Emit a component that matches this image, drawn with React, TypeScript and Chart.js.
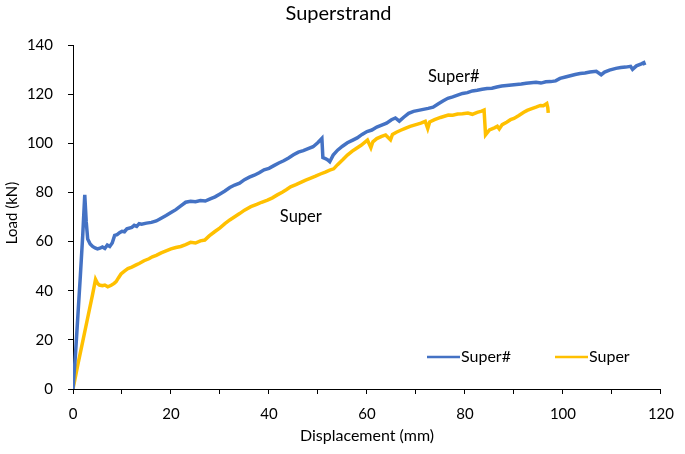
import React, { useEffect, useRef } from "react";
import { Chart, registerables } from "chart.js";

Chart.register(...registerables);

const TITLE = "Superstrand";
const X_TITLE = "Displacement (mm)";
const Y_TITLE = "Load (kN)";
const SERIES_NAMES = ["Super#", "Super"];
const COLORS = ["#4472C4", "#FFC000"];

// Super# (blue)
const superHashX = [
  0, 0.5, 1, 1.5, 2, 2.4, 2.7, 3.0, 3.5, 4, 4.5, 5, 5.5, 6, 6.5, 7, 7.5, 8, 8.5, 9, 9.5, 10, 10.5, 11, 12, 12.5, 13, 13.5, 14, 15,
  16, 17, 18, 19, 20, 21, 22, 23, 24, 25, 26, 27, 28, 29, 30, 31, 32, 33, 34, 35, 36, 37, 38, 39, 40, 41, 42, 43, 44, 45,
  46, 47, 48, 49, 50, 50.8, 51.0, 51.5, 52, 52.4, 53.1, 54, 55, 56, 57, 58, 59, 60, 61, 62, 63, 64, 65, 65.8, 66.6, 67.5, 68.5, 69.5, 70.5, 71.5,
  72.5, 73.5, 74.5, 75.5, 76.5, 77.5, 78.5, 79.5, 80.5, 81.5, 82.5, 83.5, 84.5, 85.5, 86.5, 87.5, 88.5, 89.5, 90.5, 91.5, 92.5, 93.5, 94.5, 95.5,
  96.5, 97.5, 98.5, 99.4, 100.5, 101.5, 102.5, 103.5, 104.5, 105.5, 106.8, 107.8, 108.5, 109.5, 110.8, 111.8, 112.8, 113.8, 114.2, 115, 116, 116.5, 116.7,
];
const superHashY = [
  0, 14, 30, 46, 63, 79, 68, 61, 59, 58, 57.4, 57, 57.3, 57.8, 57.2, 58.6, 58, 59.4, 62.5, 62.8, 63.6, 64.2, 64, 65.2, 65.8, 66.6, 66.2, 67.3, 67.1, 67.5,
  67.8, 68.4, 69.5, 70.6, 71.8, 73, 74.5, 76, 76.4, 76.2, 76.7, 76.5, 77.4, 78.2, 79.4, 80.6, 82, 83, 83.8, 85.2, 86.2, 87, 88, 89.2, 89.8, 90.9, 92, 92.9, 94, 95.3,
  96.4, 97, 97.8, 98.6, 100.3, 102, 94.2, 93.8, 93.2, 92.5, 95.2, 97.2, 98.8, 100.2, 101.2, 102.2, 103.6, 104.8, 105.4, 106.6, 107.4, 108.2, 109.6, 110.3, 109, 110.6, 112.2, 113, 113.4, 113.8,
  114.2, 114.7, 116, 117.2, 118.3, 118.9, 119.6, 120.3, 120.6, 121.3, 121.6, 122, 122.3, 122.4, 122.9, 123.3, 123.5, 123.7, 123.9, 124.1, 124.4, 124.6, 124.8, 124.5,
  125, 125.1, 125.4, 126.4, 127, 127.5, 128, 128.4, 128.6, 129, 129.3, 127.9, 129, 129.8, 130.5, 130.8, 131, 131.3, 130.1, 131.5, 132.3, 132.8, 131.8,
];

// Super (yellow)
const superX = [
  0, 1, 2, 3, 4, 4.6, 5.0, 5.4, 6, 6.5, 7.1, 7.8, 8.4, 8.8, 9.3, 9.8, 10.5, 11.2, 12, 13, 13.5, 14.5, 15.5, 16.2, 17, 18, 19, 20, 21, 22,
  23, 24, 25, 26, 26.9, 27.8, 28.9, 30, 31, 32, 33, 34, 35, 36.3, 37.5, 38.5, 39.7, 40.7, 41.7, 42.7, 43.6, 44.4, 45.5, 46.5, 47.5, 48.4, 49.5, 50.5, 51.5, 52.4,
  53.2, 54, 55.1, 56, 57, 57.8, 58.8, 60.1, 60.8, 61.2, 62, 63, 63.8, 64.8, 65.2, 66, 67, 67.8, 68.8, 70, 71, 71.9, 72.4, 72.8, 73.8, 75, 76.6, 77.5, 78.5, 79.5,
  80.6, 81.5, 82.5, 83.4, 83.9, 84.2, 85, 86, 86.6, 87, 87.6, 88.5, 89.3, 90, 91, 92, 92.7, 93.5, 94.5, 95.4, 96, 96.7, 96.9, 97,
];
const superY = [
  0, 10, 19.5, 29, 38.5, 44.6, 43, 42.3, 42, 42.3, 41.6, 42.2, 43, 43.7, 45.3, 46.8, 48, 49, 49.6, 50.6, 51.1, 52.2, 53, 53.8, 54.4, 55.4, 56.2, 57, 57.6, 58,
  58.8, 59.7, 59.4, 60.3, 60.6, 62.3, 64, 65.6, 67.3, 68.8, 70.1, 71.4, 72.8, 74.2, 75.1, 76, 76.9, 77.8, 79, 80.1, 81.2, 82.3, 83.2, 84.1, 85, 85.7, 86.6, 87.5, 88.3, 89.1,
  89.6, 91.3, 93.4, 95.2, 96.8, 97.9, 99.2, 101.3, 98.2, 100.6, 101.9, 102.8, 103.4, 101.4, 103.6, 104.5, 105.4, 106.1, 106.9, 107.6, 108.2, 108.9, 106, 108.7, 109.6, 110.5, 111.5, 111.4, 111.9, 112,
  112.3, 111.8, 112.6, 113.1, 113.5, 103.4, 105.4, 106.3, 106.9, 105.8, 107.6, 108.6, 109.6, 110.1, 111.3, 112.6, 113.4, 114, 114.7, 115.4, 115.3, 116.2, 114.5, 112.4,
];

// in-plot series labels (data coordinates)
const LABEL_SUPERHASH = { x: 77.7, y: 127 };
const LABEL_SUPER = { x: 46.5, y: 70 };

const X_MIN = 0, X_MAX = 120, X_STEP = 10, X_LABEL_STEP = 20;
const Y_MIN = 0, Y_MAX = 140, Y_STEP = 20;

const FONT = "Lato, 'Open Sans', sans-serif";

const zip = (xs: number[], ys: number[]) => xs.map((x, i) => ({ x, y: ys[i] }));

export default function App() {
  const ref = useRef<HTMLCanvasElement | null>(null);

  useEffect(() => {
    const canvas = ref.current;
    if (!canvas) return;

    const decor = {
      id: "decor",
      afterDraw(chart: any) {
        const ctx = chart.ctx;
        const area = chart.chartArea;
        const xs = chart.scales.x;
        const ys = chart.scales.y;
        ctx.save();
        ctx.fillStyle = "#000";
        ctx.textBaseline = "middle";
        // title
        ctx.font = `20px ${FONT}`;
        ctx.textAlign = "center";
        ctx.fillText(TITLE, chart.width / 2 - 4, 14);
        // axis titles
        ctx.font = `16px ${FONT}`;
        ctx.fillText(X_TITLE, (area.left + area.right) / 2, 436);
        ctx.save();
        ctx.translate(12, (area.top + area.bottom) / 2 - 4);
        ctx.rotate(-Math.PI / 2);
        ctx.font = `15px ${FONT}`;
        ctx.fillText(Y_TITLE, 0, 0);
        ctx.restore();
        // in-plot labels
        ctx.font = `16.5px ${FONT}`;
        ctx.fillText(SERIES_NAMES[0], xs.getPixelForValue(LABEL_SUPERHASH.x), ys.getPixelForValue(LABEL_SUPERHASH.y));
        ctx.fillText(SERIES_NAMES[1], xs.getPixelForValue(LABEL_SUPER.x), ys.getPixelForValue(LABEL_SUPER.y));
        // legend
        const ly = 357;
        const items = [
          { x: 427, name: SERIES_NAMES[0], color: COLORS[0] },
          { x: 555, name: SERIES_NAMES[1], color: COLORS[1] },
        ];
        ctx.textAlign = "left";
        ctx.font = `16px ${FONT}`;
        items.forEach((it) => {
          ctx.strokeStyle = it.color;
          ctx.lineWidth = 2.5;
          ctx.beginPath();
          ctx.moveTo(it.x, ly);
          ctx.lineTo(it.x + 33, ly);
          ctx.stroke();
          ctx.fillStyle = "#000";
          ctx.fillText(it.name, it.x + 34, ly);
        });
        ctx.restore();
      },
    };

    const chart = new Chart(canvas, {
      type: "scatter",
      data: {
        datasets: [
          {
            label: SERIES_NAMES[0],
            data: zip(superHashX, superHashY),
            showLine: true,
            borderColor: COLORS[0],
            backgroundColor: COLORS[0],
            borderWidth: 3.5,
            pointRadius: 0,
            tension: 0,
          },
          {
            label: SERIES_NAMES[1],
            data: zip(superX, superY),
            showLine: true,
            borderColor: COLORS[1],
            backgroundColor: COLORS[1],
            borderWidth: 3.5,
            pointRadius: 0,
            tension: 0,
          },
        ],
      },
      options: {
        animation: false,
        responsive: false,
        devicePixelRatio: 1,
        layout: { padding: { top: 45, right: 16, left: 0, bottom: 0 } },
        plugins: {
          legend: { display: false },
          title: { display: false },
          tooltip: { enabled: false },
        },
        scales: {
          x: {
            type: "linear",
            min: X_MIN,
            max: X_MAX,
            afterFit: (s: any) => { s.height = 65; },
            border: { display: true, color: "#000", width: 1 },
            grid: { drawOnChartArea: false, drawTicks: true, tickLength: 5, color: "#000" },
            ticks: {
              stepSize: X_STEP,
              autoSkip: false,
              maxRotation: 0,
              padding: 11,
              color: "#000",
              font: { family: FONT, size: 15 },
              callback: (v: any) => (Number(v) % X_LABEL_STEP === 0 ? String(v) : ""),
            },
          },
          y: {
            type: "linear",
            min: Y_MIN,
            max: Y_MAX,
            afterFit: (s: any) => { s.width = 73; },
            border: { display: true, color: "#000", width: 1 },
            grid: { drawOnChartArea: false, drawTicks: true, tickLength: 5, color: "#000" },
            ticks: {
              stepSize: Y_STEP,
              padding: 15,
              color: "#000",
              font: { family: FONT, size: 15 },
            },
          },
        },
      },
      plugins: [decor],
    } as any);

    return () => chart.destroy();
  }, []);

  return (
    <div style={{ position: "absolute", left: 0, top: 0, width: 685, height: 454, background: "#fff" }}>
      <canvas ref={ref} width={685} height={454} style={{ display: "block" }} />
    </div>
  );
}
